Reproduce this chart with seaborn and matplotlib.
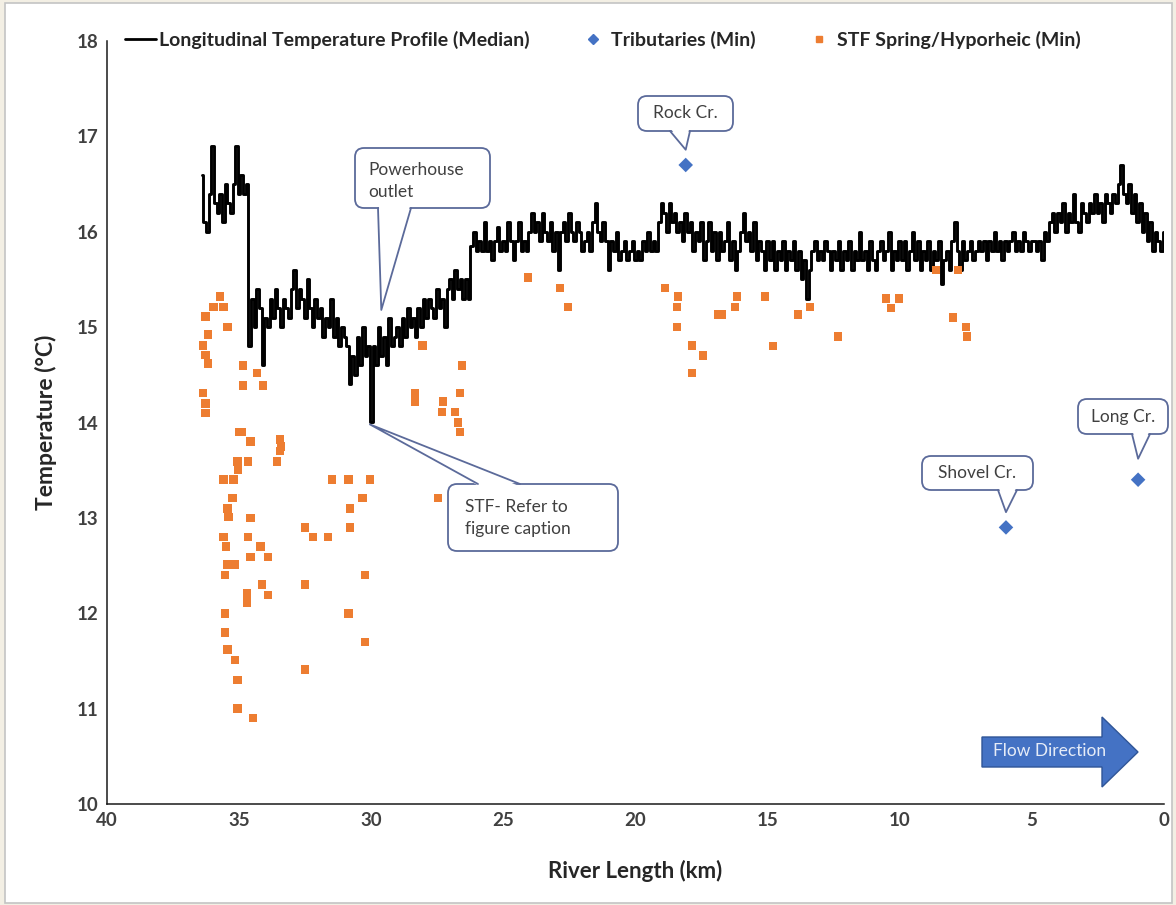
import matplotlib
matplotlib.use("Agg")
import matplotlib.pyplot as plt
import numpy as np
import seaborn as sns
from matplotlib.lines import Line2D
from matplotlib.patches import FancyArrow, FancyBboxPatch, Polygon, Rectangle
from matplotlib.transforms import Affine2D

W, H = 1176, 905

# Longitudinal profile, read every 0.1 km from 36.4 km down to 0 km
profile_km = np.round(np.arange(36.4, -0.05, -0.1), 1)
profile_temp = [
    16.6, 16.1, 16.0, 16.4, 16.9,
    16.3, 16.2, 16.4, 16.1, 16.5, 16.3, 16.2, 16.5, 16.9, 16.4,
    16.6, 16.4, 16.5, 14.8, 15.3, 15.0, 15.4, 15.2, 14.6, 15.1,
    15.0, 15.3, 15.1, 15.4, 15.2, 15.0, 15.3, 15.2, 15.1, 15.4,
    15.6, 15.2, 15.4, 15.3, 15.1, 15.5, 15.2, 15.0, 15.3, 15.1,
    15.2, 14.9, 15.1, 15.0, 15.3, 14.9, 15.1, 14.8, 15.0, 14.9,
    14.8, 14.4, 14.7, 14.5, 14.9, 14.6, 15.0, 14.7, 14.8, 14.0,
    14.8, 14.6, 15.0, 14.7, 14.9, 14.6, 15.1, 14.8, 14.9, 15.0,
    14.8, 15.1, 14.9, 15.2, 15.0, 15.1, 14.9, 15.2, 15.0, 15.3,
    15.1, 15.3, 15.2, 15.1, 15.4, 15.2, 15.3, 15.0, 15.4, 15.5,
    15.3, 15.6, 15.4, 15.5, 15.3, 15.5, 15.3, 15.85, 16.0, 15.8,
    15.9, 15.8, 16.1, 15.8, 15.9, 15.7, 15.9, 16.05, 15.8, 15.9,
    15.8, 16.1, 15.9, 15.7, 15.9, 16.1, 15.8, 15.9, 15.8, 16.0,
    16.2, 16.0, 16.1, 15.9, 16.2, 16.0, 15.9, 16.1, 15.8, 16.0,
    15.6, 16.0, 16.1, 15.9, 16.2, 16.0, 15.9, 16.1, 16.0, 15.8,
    15.9, 16.0, 15.8, 16.1, 16.3, 16.0, 15.9, 16.1, 15.9, 15.6,
    15.9, 15.8, 16.0, 15.7, 15.8, 15.9, 15.7, 15.8, 15.9, 15.7,
    15.8, 15.7, 15.9, 15.8, 16.0, 15.8, 15.9, 15.8, 16.1, 16.3,
    16.2, 16.0, 16.3, 16.1, 16.2, 16.0, 16.1, 15.9, 16.2, 16.0,
    16.1, 15.8, 16.0, 15.9, 16.1, 15.7, 15.9, 16.1, 15.8, 16.0,
    15.7, 16.0, 15.8, 15.9, 16.1, 15.7, 15.9, 15.6, 15.8, 16.0,
    16.2, 15.9, 16.0, 15.8, 16.1, 15.7, 15.9, 15.8, 15.6, 15.9,
    15.7, 15.9, 15.6, 15.8, 15.7, 15.9, 15.6, 15.8, 15.7, 15.9,
    15.6, 15.8, 15.5, 15.7, 15.3, 15.6, 15.8, 15.9, 15.7, 15.8,
    15.7, 15.9, 15.8, 15.6, 15.8, 15.7, 15.9, 15.6, 15.8, 15.7,
    15.9, 15.6, 15.8, 15.7, 16.0, 15.7, 15.8, 15.6, 15.9, 15.7,
    15.6, 15.8, 15.9, 15.7, 15.8, 16.0, 15.6, 15.8, 15.7, 15.9,
    15.7, 15.9, 15.6, 15.8, 16.0, 15.7, 15.9, 15.6, 15.8, 15.7,
    15.9, 15.6, 15.8, 15.7, 15.9, 15.45, 15.7, 15.8, 15.6, 15.9,
    16.1, 15.8, 15.6, 15.9, 15.7, 15.8, 15.9, 15.7, 15.8, 15.9,
    15.8, 15.9, 15.7, 15.9, 15.8, 16.0, 15.8, 15.9, 15.7, 15.9,
    15.8, 15.9, 16.0, 15.8, 15.9, 15.8, 16.0, 15.9, 15.8, 15.9,
    15.9, 15.8, 15.9, 15.7, 16.0, 15.9, 16.1, 16.2, 16.0, 16.2,
    16.1, 16.3, 16.0, 16.2, 16.1, 16.4, 16.1, 16.0, 16.3, 16.2,
    16.1, 16.3, 16.2, 16.4, 16.2, 16.3, 16.1, 16.4, 16.3, 16.2,
    16.4, 16.3, 16.5, 16.7, 16.4, 16.3, 16.5, 16.2, 16.4, 16.1,
    16.3, 16.0, 16.2, 15.9, 16.1, 15.8, 16.0, 15.9, 15.8, 16.0,
]

tributary_names = ["Rock Cr.", "Shovel Cr.", "Long Cr."]
tributary_km = [18.1, 5.98, 0.98]
tributary_temp = [16.7, 12.9, 13.4]

stf_km = [
    35.72, 35.98, 35.60, 36.28, 35.45, 36.17, 36.36, 36.28, 36.17, 34.85,
    34.32, 34.85, 34.10, 36.36, 36.28, 36.28, 35.00, 34.90, 34.58, 33.45,
    33.42, 33.45, 35.07, 34.66, 35.04, 33.56, 35.60, 35.22, 31.48, 30.87,
    30.04, 30.34, 27.47, 35.26, 35.45, 30.80, 35.41, 34.58, 32.50, 30.80,
    32.20, 31.63, 35.60, 34.66, 35.50, 34.20, 34.58, 33.90, 35.45, 35.15,
    35.53, 30.23, 34.13, 33.90, 32.50, 34.70, 34.70, 35.53, 30.87, 35.53,
    30.23, 35.45, 35.15, 35.07, 32.50, 35.07, 34.47, 28.07, 26.56, 28.34,
    28.34, 26.64, 27.28, 27.32, 26.83, 26.71, 26.64, 18.43, 17.86, 17.86,
    24.06, 22.85, 22.55, 18.88, 18.39, 18.43, 16.87, 16.72, 16.16, 16.23,
    15.10, 13.85, 13.39, 17.44, 14.80, 12.33, 10.52, 10.03, 10.33, 8.63,
    7.80, 7.98, 7.49, 7.45,
]
stf_temp = [
    15.32, 15.21, 15.21, 15.11, 15.00, 14.92, 14.81, 14.71, 14.62, 14.60,
    14.52, 14.39, 14.39, 14.31, 14.20, 14.10, 13.90, 13.90, 13.80, 13.82,
    13.75, 13.70, 13.59, 13.59, 13.50, 13.59, 13.40, 13.40, 13.40, 13.40,
    13.40, 13.21, 13.21, 13.21, 13.10, 13.10, 13.01, 13.00, 12.90, 12.90,
    12.80, 12.80, 12.80, 12.80, 12.70, 12.70, 12.59, 12.59, 12.51, 12.51,
    12.40, 12.40, 12.30, 12.19, 12.30, 12.21, 12.11, 12.00, 12.00, 11.80,
    11.70, 11.62, 11.51, 11.30, 11.41, 11.00, 10.90, 14.81, 14.60, 14.31,
    14.22, 14.31, 14.22, 14.11, 14.11, 14.00, 13.90, 15.00, 14.81, 14.52,
    15.52, 15.41, 15.21, 15.41, 15.32, 15.21, 15.13, 15.13, 15.32, 15.21,
    15.32, 15.13, 15.21, 14.70, 14.80, 14.90, 15.30, 15.30, 15.20, 15.60,
    15.60, 15.10, 15.00, 14.90,
]

x_ticks = [40, 35, 30, 25, 20, 15, 10, 5, 0]
y_ticks = [10, 11, 12, 13, 14, 15, 16, 17, 18]

LINE_LABEL = "Longitudinal Temperature Profile (Median)"
TRIB_LABEL = "Tributaries (Min)"
STF_LABEL = "STF Spring/Hyporheic (Min)"

BLUE = "#4472C4"
ORANGE = "#ED7D31"
EDGE = "#5B6A9A"
TEXT = "#404040"

sns.set_theme(style="white")
plt.rcParams["font.family"] = ["Lato", "DejaVu Sans"]

fig = plt.figure(figsize=(W / 100, H / 100), dpi=100)
fig.patch.set_facecolor("#f3efe4")
ax = fig.add_axes([107 / W, 1 - 804 / H, (1164 - 107) / W, (804 - 41) / H])

# reference-pixel transform (origin at top-left, like the source image)
PX = Affine2D().scale(1 / W, -1 / H).translate(0, 1) + fig.transFigure
fig.add_artist(Rectangle((5, 3), W - 9, H - 5, transform=PX, fc="white",
                         ec="#c4c4c4", lw=1.2, zorder=-1))

sns.lineplot(x=profile_km, y=profile_temp, color="black", lw=2.1,
             drawstyle="steps-mid", estimator=None, ax=ax, zorder=2)
sns.scatterplot(x=stf_km, y=stf_temp, marker="s", s=38, color=ORANGE,
                edgecolor="none", ax=ax, zorder=3)
sns.scatterplot(x=tributary_km, y=tributary_temp, marker="D", s=55, color=BLUE,
                edgecolor="none", ax=ax, zorder=4)

ax.set_xlim(40, 0)
ax.set_ylim(10, 18)
ax.set_xticks(x_ticks)
ax.set_yticks(y_ticks)
ax.tick_params(length=0, pad=6, labelsize=13.5, labelcolor=TEXT)
for lab in ax.get_xticklabels() + ax.get_yticklabels():
    lab.set_fontweight("bold")
sns.despine(ax=ax)
for side in ("left", "bottom"):
    ax.spines[side].set_color("#1a1a1a")
    ax.spines[side].set_linewidth(1.1)
ax.set_xlabel("River Length (km)", fontsize=16, fontweight="bold",
              color="#262626", labelpad=22)
ax.set_ylabel("Temperature (°C)", fontsize=16.5, fontweight="bold",
              color="#262626", labelpad=14)

handles = [
    Line2D([], [], color="black", lw=2),
    Line2D([], [], color=BLUE, marker="D", ls="none", markersize=5),
    Line2D([], [], color=ORANGE, marker="s", ls="none", markersize=5),
]
fig.legend(handles, [LINE_LABEL, TRIB_LABEL, STF_LABEL], loc="center",
           bbox_to_anchor=(603 / W, 1 - 40 / H), ncol=3, frameon=False,
           columnspacing=2.45, handlelength=1.6, handletextpad=0.15,
           prop={"size": 14, "weight": "bold"}, labelcolor="#262626")


def to_px(km, temp):
    return PX.inverted().transform(ax.transData.transform((km, temp)))


def callout(text, box, base, tip, text_at, ha="left"):
    x0, y0, x1, y1 = box
    tx, ty = to_px(*tip)
    (bx0, by0), (bx1, by1) = base
    inset = 2 if by0 <= (y0 + y1) / 2 else -2
    fig.add_artist(FancyBboxPatch((x0, y0), x1 - x0, y1 - y0,
                                  boxstyle="round,pad=0,rounding_size=9",
                                  transform=PX, fc="white", ec=EDGE, lw=1.3, zorder=6))
    fig.add_artist(Polygon([(bx0 + 1, by0 + inset), (tx, ty), (bx1 - 1, by1 + inset)],
                           closed=True, transform=PX, fc="white", ec="none", zorder=7))
    fig.add_artist(Line2D([bx0, tx, bx1], [by0, ty, by1], transform=PX,
                          color=EDGE, lw=1.3, zorder=8))
    fig.text(text_at[0], text_at[1], text, transform=PX, ha=ha, va="center",
             fontsize=12.5, color=TEXT, linespacing=1.4, zorder=9)


callout("Powerhouse\noutlet", (355, 148, 490, 208), ((378, 208), (411, 208)),
        (29.62, 15.18), (368, 181))
callout("STF- Refer to\nfigure caption", (448, 484, 618, 551), ((478, 484), (520, 484)),
        (30.05, 13.98), (465, 518))
callout(tributary_names[0], (638, 96, 733, 131), ((670, 131), (690, 131)),
        (tributary_km[0], tributary_temp[0] + 0.16), (685.5, 113), ha="center")
callout(tributary_names[1], (922, 456, 1033, 490), ((998, 490), (1017, 490)),
        (tributary_km[1], tributary_temp[1] + 0.16), (977.5, 473), ha="center")
callout(tributary_names[2], (1078, 399, 1168, 434), ((1132, 434), (1150, 434)),
        (tributary_km[2], tributary_temp[2] + 0.22), (1123, 416.5), ha="center")

# flow direction block arrow
fig.add_artist(FancyArrow(982, 752, 156, 0, width=30, head_width=70, head_length=36,
                          length_includes_head=True, transform=PX, fc=BLUE,
                          ec="#2F5597", lw=1, zorder=6))
fig.text(1050, 751, "Flow Direction", transform=PX, ha="center", va="center",
         fontsize=12.5, color="#e6ecf7", zorder=7)

fig.savefig("out.png", dpi=100, facecolor=fig.get_facecolor())
